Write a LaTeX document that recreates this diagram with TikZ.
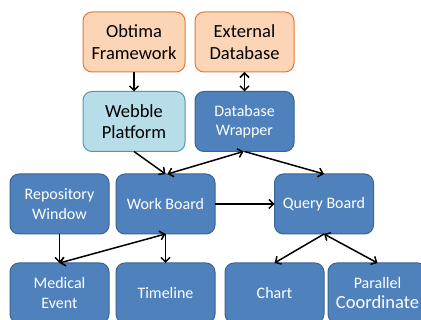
\documentclass[tikz,border=0pt]{standalone}
\usepackage{fontspec}
\setmainfont{Carlito}
\usetikzlibrary{arrows.meta}
\definecolor{orfill}{HTML}{FBD5B5}
\definecolor{ordraw}{HTML}{E9782C}
\definecolor{lbfill}{HTML}{B7DDE8}
\definecolor{lbdraw}{HTML}{4A9BB0}
\definecolor{dbfill}{HTML}{4F81BD}
\definecolor{dbdraw}{HTML}{3A6494}
\tikzset{
  box/.style={rectangle, rounded corners=9pt, line width=1pt, minimum width=99pt, minimum height=60pt, inner sep=1pt, outer sep=0pt, align=center},
  orbox/.style={box, fill=orfill, draw=ordraw, text=black, font=\fontsize{18.5}{21.5}\selectfont},
  lbbox/.style={box, fill=lbfill, draw=lbdraw, text=black, font=\fontsize{18.5}{21.5}\selectfont},
  dbbox/.style={box, fill=dbfill, draw=dbdraw, text=white, font=\fontsize{16}{19.5}\selectfont},
  conn/.style={line width=1.5pt, -{Straight Barb[length=4.5pt,width=9pt]}},
  dconn/.style={line width=1.5pt, {Straight Barb[length=4.5pt,width=9pt]}-{Straight Barb[length=4.5pt,width=9pt]}}
}
\begin{document}
\begin{tikzpicture}[x=1pt,y=-1pt]
\useasboundingbox (0,0) rectangle (421,320);
\node[orbox, minimum width=102pt] (ob) at (134,42) {Obtima\\Framework};
\node[orbox] (ed) at (244.5,42) {External\\Database};
\node[lbbox, minimum width=102pt] (wp) at (134,121.5) {Webble\\Platform};
\node[dbbox] (dw) at (244.5,121.5) {Database\\Wrapper};
\node[dbbox] (rw) at (59.5,204) {Repository\\Window};
\node[dbbox] (wb) at (165.5,204) {Work Board};
\node[dbbox] (qb) at (324,204) {Query Board};
\node[dbbox] (me) at (59.5,293) {Medical\\Event};
\node[dbbox] (tl) at (165.5,293) {Timeline};
\node[dbbox] (ch) at (274.5,293) {Chart};
\node[dbbox] (pc) at (377.5,293) {Parallel\\{\fontsize{18.5}{21}\selectfont Coordinate}};
\coordinate (wbtop) at ([xshift=0pt]wb.north);
\coordinate (wbtop2) at ([xshift=2pt]wb.north);
\coordinate (dwb) at ([xshift=-1pt]dw.south);
\draw[conn] (ob.south) -- (wp.north);
\draw[dconn] (ed.south) -- (dw.north);
\draw[conn] (wp.south) -- (wbtop);
\draw[dconn] (wbtop2) -- (dwb);
\draw[conn] (dw.south) -- (qb.north);
\draw[conn] (wb.east) -- (qb.west);
\draw[conn] (rw.south) -- (me.north);
\draw[dconn] (wb.south) -- (me.north);
\draw[conn] (wb.south) -- (tl.north);
\draw[conn] (qb.south) -- (ch.north);
\draw[dconn] (qb.south) -- (pc.north);
\end{tikzpicture}
\end{document}
